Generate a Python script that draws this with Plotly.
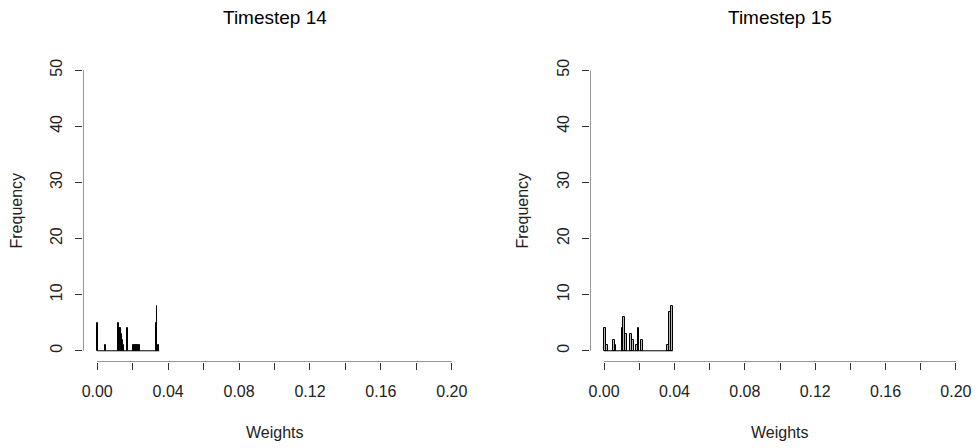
import plotly.graph_objects as go

# ---- data ----
titles = ["Timestep 14", "Timestep 15"]

ts14_bin_width = 0.0005
ts14_bin_starts = [0.0, 0.0045, 0.012, 0.0125, 0.013, 0.0135, 0.014, 0.0145, 0.017,
                   0.020, 0.0205, 0.021, 0.0215, 0.022, 0.0225, 0.023, 0.0235,
                   0.033, 0.0335, 0.0345]
ts14_counts = [5, 1, 5, 4, 4, 3, 2, 1, 4,
               1, 1, 1, 1, 1, 1, 1, 1,
               5, 8, 1]
ts14_range = [0.0, 0.035]

ts15_bin_width = 0.001
ts15_bin_starts = [0.000, 0.001, 0.005, 0.006, 0.010, 0.011, 0.012, 0.015, 0.016,
                   0.018, 0.019, 0.021, 0.036, 0.037, 0.038]
ts15_counts = [4, 1, 2, 1, 4, 6, 3, 3, 2, 1, 4, 2, 1, 7, 8]
ts15_range = [0.0, 0.039]

x_ticks = [0.00, 0.02, 0.04, 0.06, 0.08, 0.10, 0.12, 0.14, 0.16, 0.18, 0.20]
x_tick_labels = ["0.00", "", "0.04", "", "0.08", "", "0.12", "", "0.16", "", "0.20"]
y_ticks = [0, 10, 20, 30, 40, 50]
x_label = "Weights"
y_label = "Frequency"

FONT = "Liberation Sans, Arial, sans-serif"

panels = [
    (ts14_bin_starts, ts14_counts, ts14_bin_width, ts14_range),
    (ts15_bin_starts, ts15_counts, ts15_bin_width, ts15_range),
]

x_domains = [[83 / 979, 466 / 979], [590 / 979, 970 / 979]]
y_domain = [(448 - 362) / 448, (448 - 59) / 448]

fig = go.Figure()
for i, (starts, counts, w, rng) in enumerate(panels):
    xa = "x" if i == 0 else "x2"
    ya = "y" if i == 0 else "y2"
    # zero-count baseline drawn by R's hist across the full break range
    fig.add_trace(go.Scatter(x=rng, y=[0, 0], mode="lines",
                             line=dict(color="black", width=1),
                             xaxis=xa, yaxis=ya, hoverinfo="skip", showlegend=False))
    fig.add_trace(go.Bar(x=starts, y=counts, width=[w] * len(starts), offset=0,
                         marker=dict(color="#b8b8b8", line=dict(color="black", width=1)),
                         xaxis=xa, yaxis=ya, showlegend=False))

    axis_common_x = dict(range=[-0.008, 0.208], domain=x_domains[i],
                         tickvals=x_ticks, ticktext=x_tick_labels,
                         ticks="outside", ticklen=7, tickcolor="#333", tickwidth=1,
                         showgrid=False, zeroline=False, showline=False,
                         automargin=False,
                         tickfont=dict(family=FONT, size=16, color="#222"),
                         ticklabelstandoff=8)
    axis_common_y = dict(range=[-2, 52], domain=y_domain,
                         tickvals=y_ticks, ticks="outside", ticklen=7, tickcolor="#333",
                         tickwidth=1, tickangle=-90,
                         showgrid=False, zeroline=False, showline=False,
                         automargin=False,
                         tickfont=dict(family=FONT, size=16, color="#222"),
                         ticklabelstandoff=7)
    if i == 0:
        fig.update_layout(xaxis=dict(anchor="y", **axis_common_x),
                          yaxis=dict(anchor="x", **axis_common_y))
    else:
        fig.update_layout(xaxis2=dict(anchor="y2", **axis_common_x),
                          yaxis2=dict(anchor="x2", **axis_common_y))

    # R-style axis lines spanning first to last tick only
    fig.add_shape(type="line", xref=xa, yref=ya, x0=x_ticks[0], x1=x_ticks[-1],
                  y0=-2, y1=-2, line=dict(color="#333", width=1))
    fig.add_shape(type="line", xref=xa, yref=ya, x0=-0.008, x1=-0.008,
                  y0=y_ticks[0], y1=y_ticks[-1], line=dict(color="#333", width=1))

    cx = (x_domains[i][0] + x_domains[i][1]) / 2
    fig.add_annotation(text=titles[i], x=cx, y=1 - 17 / 448, xref="paper", yref="paper",
                       showarrow=False, xanchor="center", yanchor="middle",
                       font=dict(family=FONT, size=19, color="black"))
    fig.add_annotation(text=x_label, x=cx, y=1 - 432 / 448, xref="paper", yref="paper",
                       showarrow=False, xanchor="center", yanchor="middle",
                       font=dict(family=FONT, size=16, color="#222"))
    ylx = (16 if i == 0 else 522) / 979
    fig.add_annotation(text=y_label, x=ylx, y=sum(y_domain) / 2, xref="paper", yref="paper",
                       showarrow=False, xanchor="center", yanchor="middle", textangle=-90,
                       font=dict(family=FONT, size=16, color="#222"))

fig.update_layout(width=979, height=448, margin=dict(l=0, r=0, t=0, b=0),
                  plot_bgcolor="white", paper_bgcolor="white", bargap=0)

fig.write_html("out.html", config={"displayModeBar": False},
               post_script="document.body.style.margin='0';")
